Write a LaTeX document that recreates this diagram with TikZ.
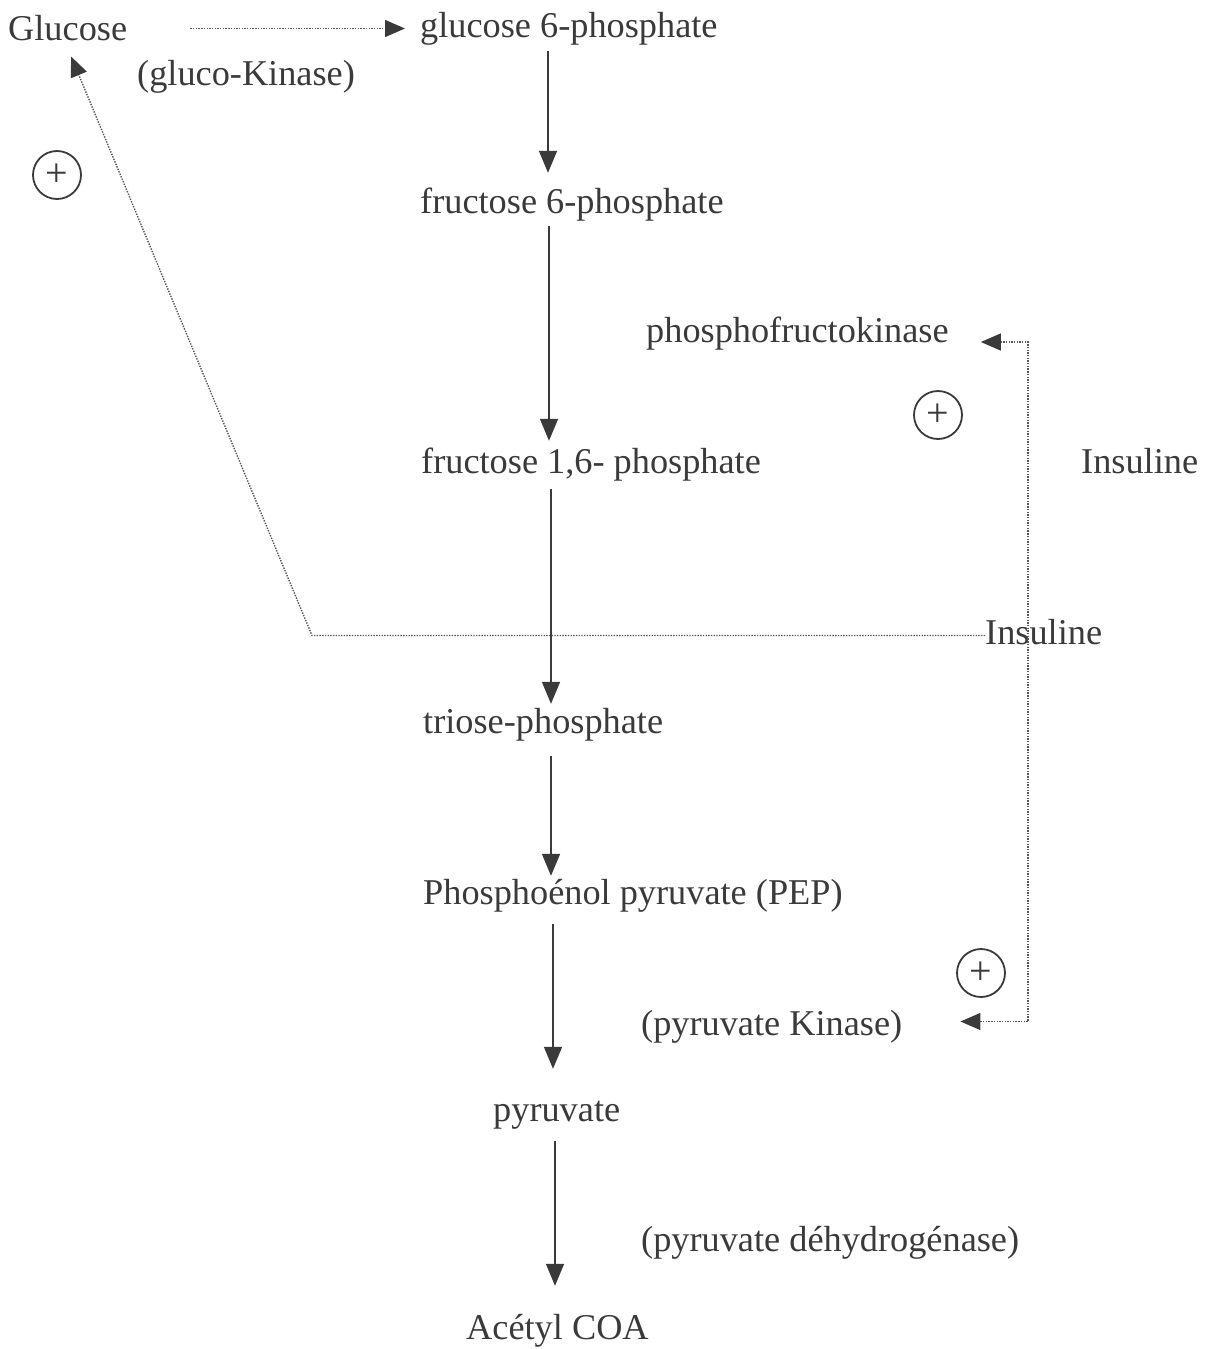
\documentclass[tikz,border=0pt]{standalone}
\usepackage{fontspec}
\setmainfont{Liberation Serif}
\usetikzlibrary{arrows.meta}
\definecolor{ink}{HTML}{3A3A3A}
\definecolor{dotc}{HTML}{555555}
\begin{document}
\begin{tikzpicture}[x=1pt,y=-1pt,
  lbl/.style={anchor=base west, inner sep=0pt, text height=25pt, text depth=8pt,
              font=\fontsize{36.3}{40}\selectfont, text=ink},
  flow/.style={draw=ink, line width=1.6pt, -{Triangle[length=22pt,width=18pt,color=ink]}},
  dotline/.style={draw=dotc, line width=1.4pt, dash pattern=on 1.4pt off 1.3pt},
  dtip/.tip={Triangle[length=20pt,width=17pt,color=ink]},
  plus/.style={circle, draw=ink, line width=1.8pt, minimum size=48pt, inner sep=0pt,
               font=\fontsize{40}{40}\selectfont, text=ink}
]
\useasboundingbox (0,0) rectangle (1210,1349);

% texts
\node[lbl] (glc)  at (8,40)     {Glucose};
\node[lbl] (gk)   at (137,85)   {(gluco-Kinase)};
\node[lbl] (g6p)  at (420,37)   {glucose 6-phosphate};
\node[lbl] (f6p)  at (420,213)  {fructose 6-phosphate};
\node[lbl] (pfk)  at (646,342)  {phosphofructokinase};
\node[lbl] (f16)  at (421,473)  {fructose 1,6- phosphate};
\node[lbl] (ins1) at (1081,473) {Insuline};
\node[lbl] (ins2) at (985,644)  {Insuline};
\node[lbl] (tri)  at (423,733)  {triose-phosphate};
\node[lbl] (pep)  at (423,904)  {Phosphoénol pyruvate (PEP)};
\node[lbl] (pk)   at (641,1035) {(pyruvate Kinase)};
\node[lbl] (pyr)  at (493,1121) {pyruvate};
\node[lbl] (pdh)  at (641,1251) {(pyruvate déhydrogénase)};
\node[lbl] (acoa) at (466,1339) {Acétyl COA};

% plus circles
\node[plus] (p1) at (57,175)  {+};
\node[plus] (p2) at (938,415) {+};
\node[plus] (p3) at (981,973) {+};

% coordinates
\coordinate (x1) at (548,0);
\coordinate (x2) at (549,0);
\coordinate (x3) at (551,0);
\coordinate (x4) at (553,0);
\coordinate (x5) at (555,0);
\coordinate (bendx) at (312,0);
\coordinate (brx) at (1028,600);

% main pathway
\draw[flow, shorten <=6pt,  shorten >=15pt] (g6p.south -| x1) -- (f6p.north -| x1);
\draw[flow, shorten <=5pt,  shorten >=7pt]  (f6p.south -| x2) -- (f16.north -| x2);
\draw[flow, shorten <=8pt,  shorten >=4pt]  (f16.south -| x3) -- (tri.north -| x3);
\draw[flow, shorten <=15pt, shorten >=3pt]  (tri.south -| x3) -- (pep.north -| x3);
\draw[flow, shorten <=12pt, shorten >=27pt] (pep.south -| x4) -- (pyr.north -| x4);
\draw[flow, shorten <=12pt, shorten >=28pt] (pyr.south -| x5) -- (acoa.north -| x5);

% dotted regulation
\draw[dotline, -{dtip}, shorten <=63pt, shorten >=15pt] (g6p.west -| glc.east) -- (g6p.west);
\draw[dotline, -{dtip}, shorten >=9pt] (ins2.west) -- (ins2.west -| bendx) -- (glc.south);
\draw[dotline, {dtip}-{dtip}, shorten <=32pt, shorten >=58pt]
  (pfk.base east) -| (brx) |- ([yshift=5pt]pk.east);
\end{tikzpicture}
\end{document}
